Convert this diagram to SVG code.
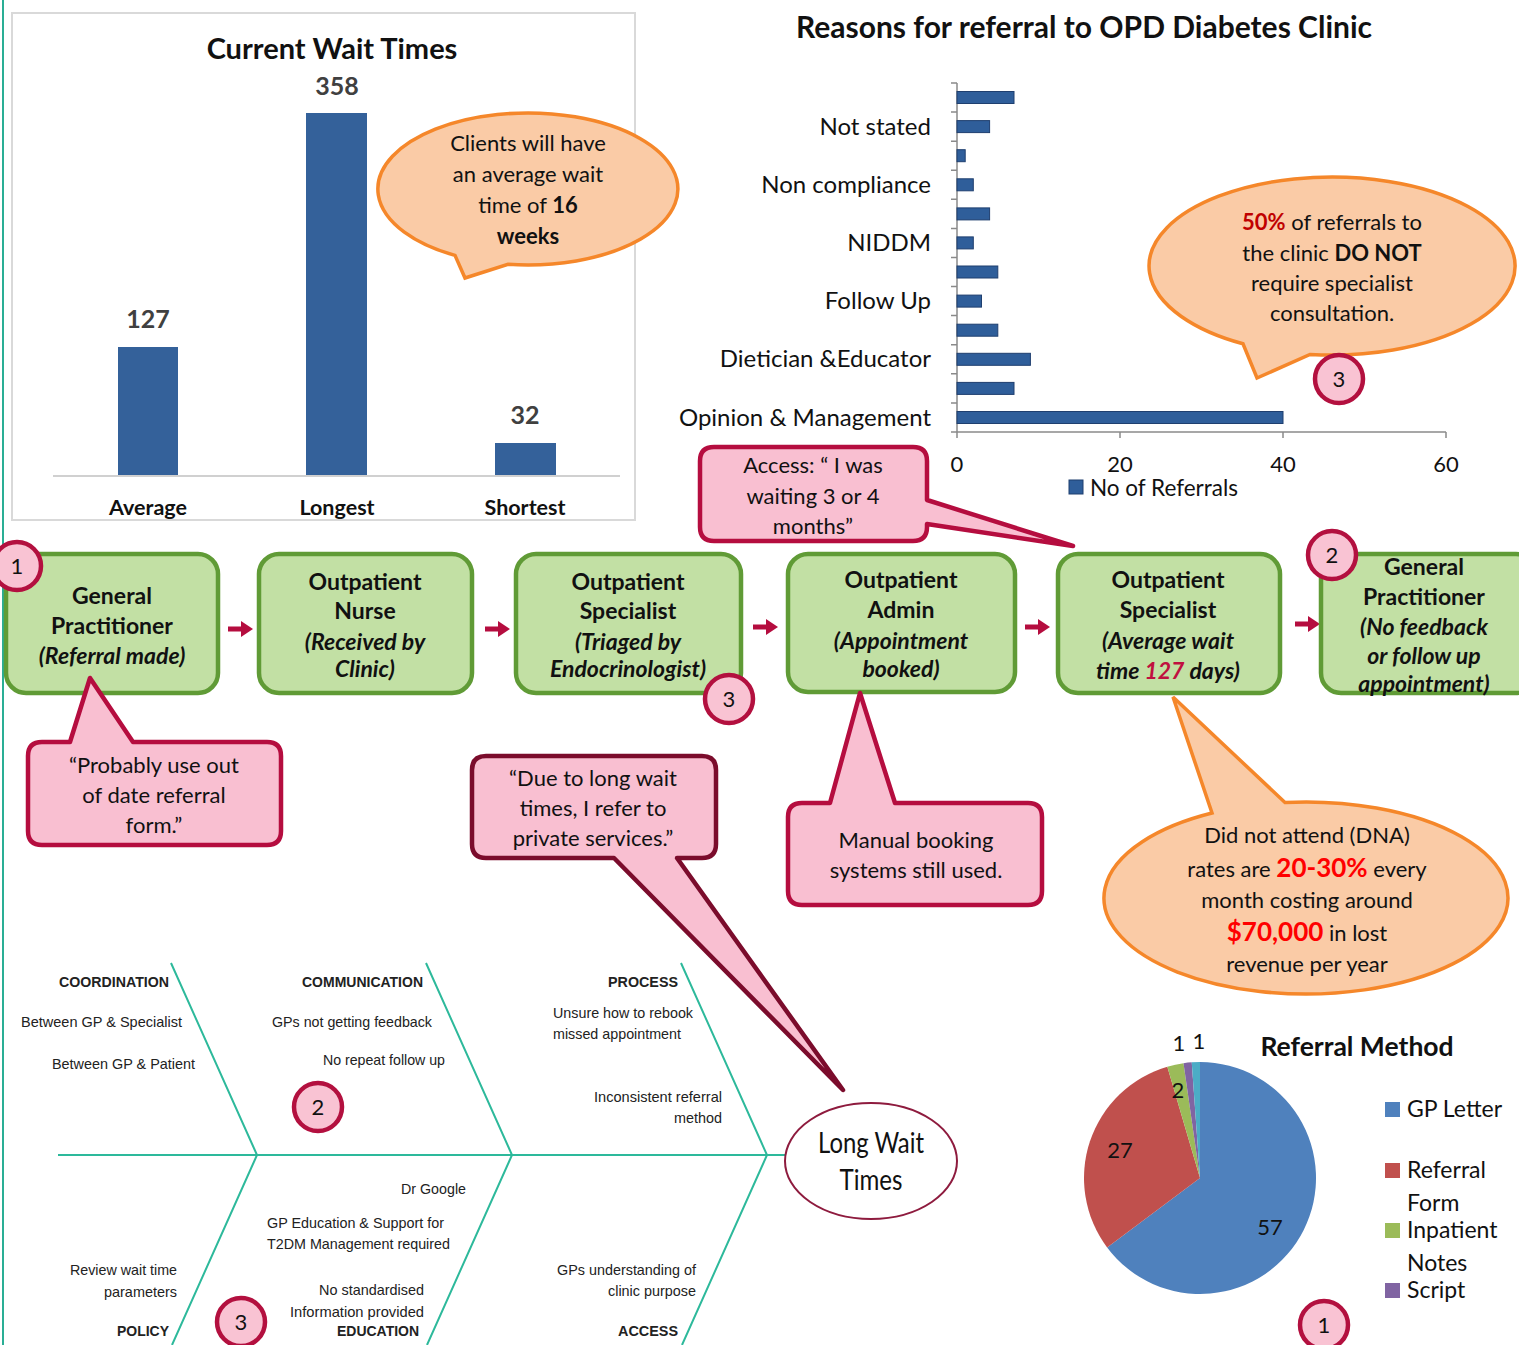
<svg xmlns="http://www.w3.org/2000/svg" width="1519" height="1345" viewBox="0 0 1519 1345">
<style>
text{font-family:Lato,"Open Sans","Liberation Sans",sans-serif;fill:#111}
.b{font-weight:bold}
.i{font-style:italic}
.m{text-anchor:middle}
.e{text-anchor:end}
.box{fill:#C2E0A4;stroke:#609B36;stroke-width:4.5}
.pink{fill:#F9BFD1;stroke:#B50D3F;stroke-width:4.5;stroke-linejoin:round}
.peach{fill:#FACBA6;stroke:#F5872A;stroke-width:3.5}
.badge{fill:#F9C3D3;stroke:#B3103F;stroke-width:4.5}
.bt{font-size:23px;font-weight:bold;text-anchor:middle}
.fb{stroke:#2DB99B;stroke-width:2;fill:none}
.ft{font-family:"Liberation Sans",Arial,sans-serif;font-size:15px;fill:#222}
.bar1{fill:#34619A}
.bar2{fill:#2F5E9A;stroke:#1F3F6F;stroke-width:1}
.ax{stroke:#8a8a8a;stroke-width:1.5}
.lbl{font-size:24px;text-anchor:end}
.bn{font-size:22px;text-anchor:middle}
</style>
<defs>
<path id="arr" d="M0,-2.5 H13 V-8 L25,0 L13,8 V2.5 H0 Z" fill="#B50D3F"/>
</defs>
<rect width="1519" height="1345" fill="#fff"/>
<line x1="3" y1="0" x2="3" y2="1345" stroke="#2AAE95" stroke-width="2"/>

<g id="wait-chart">
<rect x="12" y="13" width="623" height="507" fill="#fff" stroke="#d9d9d9" stroke-width="2"/>
<text x="332" y="59" class="b m" font-size="29">Current Wait Times</text>
<line x1="53" y1="476" x2="620" y2="476" stroke="#d0d0d0" stroke-width="2"/>
<rect x="118" y="347" width="60" height="128" class="bar1"/>
<rect x="306" y="113" width="61" height="362" class="bar1"/>
<rect x="495" y="443" width="61" height="32" class="bar1"/>
<text x="148" y="328" class="b m" font-size="25" style="fill:#404040">127</text>
<text x="337" y="95" class="b m" font-size="25" style="fill:#404040">358</text>
<text x="525" y="424" class="b m" font-size="25" style="fill:#404040">32</text>
<text x="148" y="515" class="b m" font-size="21.5">Average</text>
<text x="337" y="515" class="b m" font-size="21.5">Longest</text>
<text x="525" y="515" class="b m" font-size="21.5">Shortest</text>
</g>

<g id="callout-16weeks">
<path class="peach" d="M455,255.4 A150,76 0 1 1 508,264.3 L465,278 Z"/>
<text x="528" y="151" class="m" font-size="22">Clients will have</text>
<text x="528" y="182" class="m" font-size="22">an average wait</text>
<text x="528" y="213" class="m" font-size="22">time of <tspan class="b">16</tspan></text>
<text x="528" y="244" class="m b" font-size="22">weeks</text>
</g>

<g id="reasons-chart">
<text x="1084" y="38" class="b m" font-size="30">Reasons for referral to OPD Diabetes Clinic</text>
<line x1="957" y1="83" x2="957" y2="432" class="ax"/>
<line x1="957" y1="432" x2="1446" y2="432" class="ax"/>
<path class="ax" d="M951,83H957M951,112.1H957M951,141.2H957M951,170.2H957M951,199.3H957M951,228.4H957M951,257.5H957M951,286.6H957M951,315.6H957M951,344.7H957M951,373.8H957M951,402.9H957M951,432H957M957,432V438M1120,432V438M1283,432V438M1446,432V438"/>
<rect x="957" y="91.5" width="57" height="12" class="bar2"/>
<rect x="957" y="120.6" width="32.6" height="12" class="bar2"/>
<rect x="957" y="149.7" width="8.2" height="12" class="bar2"/>
<rect x="957" y="178.8" width="16.3" height="12" class="bar2"/>
<rect x="957" y="207.9" width="32.6" height="12" class="bar2"/>
<rect x="957" y="236.9" width="16.3" height="12" class="bar2"/>
<rect x="957" y="266" width="40.8" height="12" class="bar2"/>
<rect x="957" y="295.1" width="24.5" height="12" class="bar2"/>
<rect x="957" y="324.2" width="40.8" height="12" class="bar2"/>
<rect x="957" y="353.3" width="73.4" height="12" class="bar2"/>
<rect x="957" y="382.4" width="57" height="12" class="bar2"/>
<rect x="957" y="411.5" width="326" height="12" class="bar2"/>
<text x="931" y="134.6" class="lbl">Not stated</text>
<text x="931" y="192.8" class="lbl">Non compliance</text>
<text x="931" y="250.9" class="lbl">NIDDM</text>
<text x="931" y="309.1" class="lbl">Follow Up</text>
<text x="931" y="367.3" class="lbl">Dietician &amp;Educator</text>
<text x="931" y="425.5" class="lbl">Opinion &amp; Management</text>
<text x="957" y="472" class="bn">0</text>
<text x="1120" y="472" class="bn">20</text>
<text x="1283" y="472" class="bn">40</text>
<text x="1446" y="472" class="bn">60</text>
<rect x="1069" y="480" width="14" height="14" class="bar2"/>
<text x="1090" y="496" font-size="22.5">No of Referrals</text>
</g>

<g id="callout-50pct">
<path class="peach" d="M1243,343.8 A183,89 0 1 1 1310,354.4 L1257,378 Z"/>
<text x="1332" y="230" class="m" font-size="22"><tspan class="b" style="fill:#C00000">50%</tspan> of referrals to</text>
<text x="1332" y="261" class="m" font-size="22">the clinic <tspan class="b">DO NOT</tspan></text>
<text x="1332" y="291" class="m" font-size="22">require specialist</text>
<text x="1332" y="321" class="m" font-size="22">consultation.</text>
</g>

<g id="callout-access">
<path class="pink" d="M714,447 H913 Q927,447 927,461 V500 L1073,546 L927,524 V527 Q927,541 913,541 H714 Q700,541 700,527 V461 Q700,447 714,447 Z"/>
<text x="813" y="473" class="m" font-size="22">Access: “ I was</text>
<text x="813" y="504" class="m" font-size="22">waiting 3 or 4</text>
<text x="813" y="534" class="m" font-size="22">months”</text>
</g>

<g id="connectors">
<use href="#arr" x="228" y="629"/>
<use href="#arr" x="485" y="629"/>
<use href="#arr" x="753" y="627"/>
<use href="#arr" x="1025" y="627"/>
<use href="#arr" x="1295" y="624"/>
</g>

<g id="node-gp">
<rect x="6" y="554" width="212" height="139" rx="20" class="box"/>
<text x="112" y="604" class="bt">General</text>
<text x="112" y="634" class="bt">Practitioner</text>
<text x="112" y="664" class="bt i">(Referral made)</text>
</g>
<g id="node-nurse">
<rect x="259" y="554" width="213" height="139" rx="20" class="box"/>
<text x="365" y="590" class="bt">Outpatient</text>
<text x="365" y="619" class="bt">Nurse</text>
<text x="365" y="650" class="bt i">(Received by</text>
<text x="365" y="677" class="bt i">Clinic)</text>
</g>
<g id="node-triage">
<rect x="516" y="554" width="225" height="139" rx="20" class="box"/>
<text x="628" y="590" class="bt">Outpatient</text>
<text x="628" y="619" class="bt">Specialist</text>
<text x="628" y="650" class="bt i">(Triaged by</text>
<text x="628" y="677" class="bt i">Endocrinologist)</text>
</g>
<g id="node-admin">
<rect x="788" y="554" width="227" height="138" rx="20" class="box"/>
<text x="901" y="588" class="bt">Outpatient</text>
<text x="901" y="618" class="bt">Admin</text>
<text x="901" y="649" class="bt i">(Appointment</text>
<text x="901" y="677" class="bt i">booked)</text>
</g>
<g id="node-specialist">
<rect x="1058" y="554" width="222" height="139" rx="20" class="box"/>
<text x="1168" y="588" class="bt">Outpatient</text>
<text x="1168" y="618" class="bt">Specialist</text>
<text x="1168" y="649" class="bt i">(Average wait</text>
<text x="1168" y="679" class="bt i">time <tspan style="fill:#C0103F">127</tspan> days)</text>
</g>
<g id="node-gp2">
<rect x="1321" y="554" width="215" height="139" rx="20" class="box"/>
<text x="1424" y="575" class="bt">General</text>
<text x="1424" y="605" class="bt">Practitioner</text>
<text x="1424" y="635" class="bt i">(No feedback</text>
<text x="1424" y="664" class="bt i">or follow up</text>
<text x="1424" y="692" class="bt i">appointment)</text>
</g>

<g id="callout-probably">
<path class="pink" d="M42,742 H70 L90,678 L133,742 H267 Q281,742 281,756 V831 Q281,845 267,845 H42 Q28,845 28,831 V756 Q28,742 42,742 Z"/>
<text x="154" y="773" class="m" font-size="22">“Probably use out</text>
<text x="154" y="803" class="m" font-size="22">of date referral</text>
<text x="154" y="833" class="m" font-size="22">form.”</text>
</g>
<g id="callout-due">
<path class="pink" style="stroke:#7B0C2C" d="M486,756 H702 Q716,756 716,770 V844 Q716,858 702,858 H677 L843,1090 L614,858 H486 Q472,858 472,844 V770 Q472,756 486,756 Z"/>
<text x="593" y="786" class="m" font-size="22">“Due to long wait</text>
<text x="593" y="816" class="m" font-size="22">times, I refer to</text>
<text x="593" y="846" class="m" font-size="22">private services.”</text>
</g>
<g id="callout-manual">
<path class="pink" d="M802,803 H830 L860,693 L895,803 H1028 Q1042,803 1042,817 V891 Q1042,905 1028,905 H802 Q788,905 788,891 V817 Q788,803 802,803 Z"/>
<text x="916" y="848" class="m" font-size="22">Manual booking</text>
<text x="916" y="878" class="m" font-size="22">systems still used.</text>
</g>

<g id="callout-dna">
<path class="peach" d="M1285,802.5 A202,96 0 1 1 1212,813 L1173,697 Z"/>
<text x="1307" y="843" class="m" font-size="22">Did not attend (DNA)</text>
<text x="1307" y="877" class="m" font-size="22">rates are <tspan class="b" font-size="26" style="fill:#FF0000">20-30%</tspan> every</text>
<text x="1307" y="908" class="m" font-size="22">month costing around</text>
<text x="1307" y="941" class="m" font-size="22"><tspan class="b" font-size="26" style="fill:#FF0000">$70,000</tspan> in lost</text>
<text x="1307" y="972" class="m" font-size="22">revenue per year</text>
</g>

<g id="fishbone">
<path class="fb" d="M58,1155 H785 M171,963 L257,1155 L172,1345 M426,963 L512,1155 L427,1345 M681,963 L767,1155 L682,1345"/>
<text x="59" y="987" class="ft b" textLength="110" lengthAdjust="spacingAndGlyphs">COORDINATION</text>
<text x="21" y="1027" class="ft" textLength="161" lengthAdjust="spacingAndGlyphs">Between GP &amp; Specialist</text>
<text x="52" y="1069" class="ft" textLength="143" lengthAdjust="spacingAndGlyphs">Between GP &amp; Patient</text>
<text x="302" y="987" class="ft b" textLength="121" lengthAdjust="spacingAndGlyphs">COMMUNICATION</text>
<text x="272" y="1027" class="ft" textLength="160" lengthAdjust="spacingAndGlyphs">GPs not getting feedback</text>
<text x="323" y="1065" class="ft" textLength="122" lengthAdjust="spacingAndGlyphs">No repeat follow up</text>
<text x="401" y="1194" class="ft" textLength="65" lengthAdjust="spacingAndGlyphs">Dr Google</text>
<text x="267" y="1228" class="ft" textLength="177" lengthAdjust="spacingAndGlyphs">GP Education &amp; Support for</text>
<text x="267" y="1249" class="ft" textLength="183" lengthAdjust="spacingAndGlyphs">T2DM Management required</text>
<text x="70" y="1275" class="ft" textLength="107" lengthAdjust="spacingAndGlyphs">Review wait time</text>
<text x="104" y="1297" class="ft" textLength="73" lengthAdjust="spacingAndGlyphs">parameters</text>
<text x="117" y="1336" class="ft b" textLength="52" lengthAdjust="spacingAndGlyphs">POLICY</text>
<text x="319" y="1295" class="ft" textLength="105" lengthAdjust="spacingAndGlyphs">No standardised</text>
<text x="290" y="1317" class="ft" textLength="134" lengthAdjust="spacingAndGlyphs">Information  provided</text>
<text x="337" y="1336" class="ft b" textLength="82" lengthAdjust="spacingAndGlyphs">EDUCATION</text>
<text x="608" y="987" class="ft b" textLength="70" lengthAdjust="spacingAndGlyphs">PROCESS</text>
<text x="553" y="1018" class="ft" textLength="140" lengthAdjust="spacingAndGlyphs">Unsure how to rebook</text>
<text x="553" y="1039" class="ft" textLength="128" lengthAdjust="spacingAndGlyphs">missed appointment</text>
<text x="594" y="1102" class="ft" textLength="128" lengthAdjust="spacingAndGlyphs">Inconsistent referral</text>
<text x="674" y="1123" class="ft" textLength="48" lengthAdjust="spacingAndGlyphs">method</text>
<text x="557" y="1275" class="ft" textLength="139" lengthAdjust="spacingAndGlyphs">GPs understanding of</text>
<text x="608" y="1296" class="ft" textLength="88" lengthAdjust="spacingAndGlyphs">clinic purpose</text>
<text x="618" y="1336" class="ft b" textLength="60" lengthAdjust="spacingAndGlyphs">ACCESS</text>
</g>
<g id="node-longwait">
<ellipse cx="871" cy="1161" rx="86" ry="58" fill="#fff" stroke="#8E1B3E" stroke-width="2"/>
<text x="871" y="1153" class="m" font-size="28" textLength="106" lengthAdjust="spacingAndGlyphs">Long Wait</text>
<text x="871" y="1190" class="m" font-size="28" textLength="63" lengthAdjust="spacingAndGlyphs">Times</text>
</g>

<g id="referral-pie">
<path d="M1200,1178 L1200,1062 A116,116 0 1 1 1107.12,1247.48 Z" fill="#4F81BD"/>
<path d="M1200,1178 L1107.12,1247.48 A116,116 0 0 1 1167.32,1066.70 Z" fill="#C0504D"/>
<path d="M1200,1178 L1167.32,1066.70 A116,116 0 0 1 1183.49,1063.18 Z" fill="#9BBB59"/>
<path d="M1200,1178 L1183.49,1063.18 A116,116 0 0 1 1191.73,1062.30 Z" fill="#8064A2"/>
<path d="M1200,1178 L1191.73,1062.30 A116,116 0 0 1 1200,1062 Z" fill="#4BACC6"/>
<text x="1270" y="1235" class="m" font-size="22">57</text>
<text x="1120" y="1158" class="m" font-size="22">27</text>
<text x="1178" y="1098" class="m" font-size="22">2</text>
<text x="1179" y="1051" class="m" font-size="22">1</text>
<text x="1199" y="1049" class="m" font-size="22">1</text>
<text x="1357" y="1056" class="b m" font-size="26.5">Referral Method</text>
<rect x="1385" y="1102" width="15" height="15" fill="#4F81BD"/>
<rect x="1385" y="1163" width="15" height="15" fill="#C0504D"/>
<rect x="1385" y="1223" width="15" height="15" fill="#9BBB59"/>
<rect x="1385" y="1283" width="15" height="15" fill="#8064A2"/>
<text x="1407" y="1117" font-size="23">GP Letter</text>
<text x="1407" y="1178" font-size="23">Referral</text>
<text x="1407" y="1211" font-size="23">Form</text>
<text x="1407" y="1238" font-size="23">Inpatient</text>
<text x="1407" y="1271" font-size="23">Notes</text>
<text x="1407" y="1298" font-size="23">Script</text>
</g>

<g id="badges">
<circle cx="17" cy="566" r="24" class="badge"/><text x="17" y="574" class="m" font-size="22">1</text>
<circle cx="729" cy="699" r="24" class="badge"/><text x="729" y="707" class="m" font-size="22">3</text>
<circle cx="1332" cy="555" r="24" class="badge"/><text x="1332" y="563" class="m" font-size="22">2</text>
<circle cx="1339" cy="379" r="24" class="badge"/><text x="1339" y="387" class="m" font-size="22">3</text>
<circle cx="318" cy="1107" r="24" class="badge"/><text x="318" y="1115" class="m" font-size="22">2</text>
<circle cx="241" cy="1322" r="24" class="badge"/><text x="241" y="1330" class="m" font-size="22">3</text>
<circle cx="1324" cy="1325" r="24" class="badge"/><text x="1324" y="1333" class="m" font-size="22">1</text>
</g>
</svg>
